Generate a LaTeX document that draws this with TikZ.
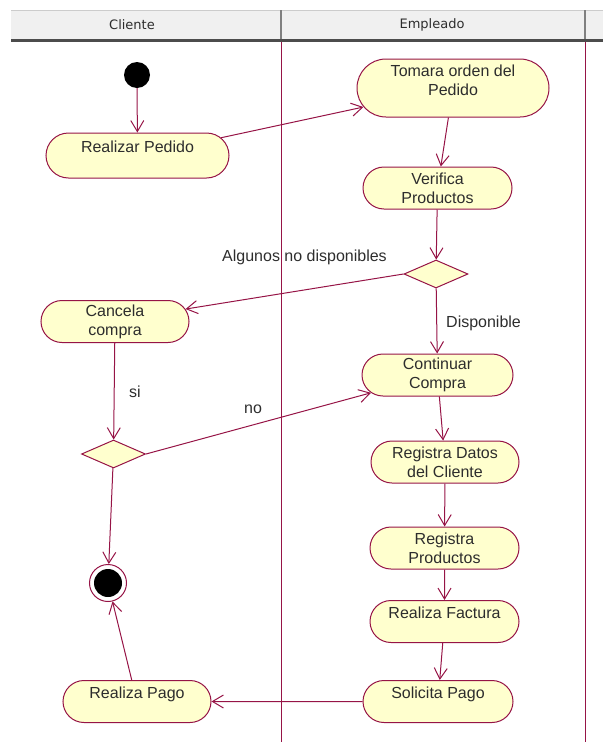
\documentclass[tikz,border=0pt]{standalone}
\usepackage{fontspec}
\setmainfont{Liberation Sans}
\newfontfamily\cabecera{DejaVu Sans}
\usetikzlibrary{shapes.misc,shapes.geometric,arrows.meta}
\definecolor{linea}{RGB}{150,20,70}
\definecolor{relleno}{RGB}{255,255,206}
\definecolor{texto}{RGB}{45,45,45}
\definecolor{gris}{RGB}{240,240,240}
\begin{document}
\begin{tikzpicture}[x=1pt,y=-1pt,
  actividad/.style={rounded rectangle, draw=linea, fill=relleno, line width=1pt,
    inner xsep=4pt, inner ysep=3pt, minimum height=42pt, align=center, text=texto,
    font=\fontsize{16}{19}\selectfont},
  unalinea/.style={text height=14.5pt, text depth=21.5pt},
  decision/.style={diamond, draw=linea, fill=relleno, line width=1pt, inner sep=0pt,
    minimum width=64pt, minimum height=28pt},
  flujo/.style={draw=linea, line width=1pt, -{Straight Barb[length=11pt,width=13pt]}},
  etiqueta/.style={text=texto, font=\fontsize{16}{19}\selectfont, inner sep=0pt},
  titulo/.style={text=texto, font=\cabecera\fontsize{13}{15}\selectfont}]
  \useasboundingbox (0,0) rectangle (603,742);
  % encabezado de carriles
  \fill[gris] (11,10) rectangle (603,40);
  \draw[gray!40] (11,10) -- (603,10);
  \draw[gray!60!black, line width=3pt] (11,40) -- (603,40);
  \draw[gray, line width=1.2pt] (281,10) -- (281,38.5) (585,10) -- (585,38.5);
  \node[titulo] (tcliente) at (132,25) {Cliente};
  \node[titulo] (templeado) at (432,25) {Empleado};
  \draw[linea, line width=1pt] (281,41.5) -- (281,742) (585,41.5) -- (585,742);

  % estados inicial y final
  \node[circle, fill=black, minimum size=26pt, inner sep=0pt] (inicio) at (137,75) {};
  \node[circle, draw=linea, fill=white, line width=1pt, minimum size=37pt, inner sep=0pt] (fin) at (108,583) {};
  \fill[black] (fin) circle (14);

  % actividades
  \node[actividad, unalinea, minimum width=191pt, minimum height=45pt] (pedido) at (137.5,155.5) {Realizar Pedido};
  \node[actividad, minimum width=200pt, minimum height=58pt] (tomara) at (453,88) {Tomara orden del\\Pedido\\[-4pt]\mbox{}};
  \node[actividad, minimum width=157pt] (verifica) at (437.5,188) {Verifica\\Productos};
  \node[decision] (dec1) at (436,274) {};
  \node[actividad, minimum width=156pt] (cancela) at (115,321.5) {Cancela\\compra};
  \node[actividad, minimum width=159pt] (continuar) at (437.5,375) {Continuar\\Compra};
  \node[decision] (dec2) at (113.5,454) {};
  \node[actividad, minimum width=156pt] (datos) at (445,462) {Registra Datos\\del Cliente};
  \node[actividad, minimum width=157pt] (productos) at (444.5,548) {Registra\\Productos};
  \node[actividad, unalinea, minimum width=157pt] (factura) at (444.5,621.5) {Realiza Factura};
  \node[actividad, unalinea, minimum width=158pt] (solicita) at (438,701.5) {Solicita Pago};
  \node[actividad, unalinea, minimum width=156pt] (pago) at (137,701.5) {Realiza Pago};

  % etiquetas de las transiciones
  \node[etiqueta, anchor=base west] (lalgunos) at (222,261) {Algunos no disponibles};
  \node[etiqueta, anchor=base west] (ldisp) at (446,327) {Disponible};
  \node[etiqueta, anchor=base west] (lsi) at (129,397) {si};
  \node[etiqueta, anchor=base west] (lno) at (244,413) {no};

  % transiciones
  \draw[flujo] (inicio) -- (pedido);
  \draw[flujo] (pedido.12) -- (tomara.192);
  \draw[flujo] (tomara) -- (verifica);
  \draw[flujo] (verifica) -- (dec1);
  \draw[flujo] (dec1.west) -- (cancela.10);
  \draw[flujo] (dec1) -- (continuar);
  \draw[flujo] (cancela) -- (dec2);
  \draw[flujo] (dec2.east) -- (continuar.195);
  \draw[flujo] (dec2) -- (fin);
  \draw[flujo] (continuar) -- (datos);
  \draw[flujo] (datos) -- (productos);
  \draw[flujo] (productos) -- (factura);
  \draw[flujo] (factura) -- (solicita);
  \draw[flujo] (solicita) -- (pago);
  \draw[flujo] (pago) -- (fin);
\end{tikzpicture}
\end{document}
